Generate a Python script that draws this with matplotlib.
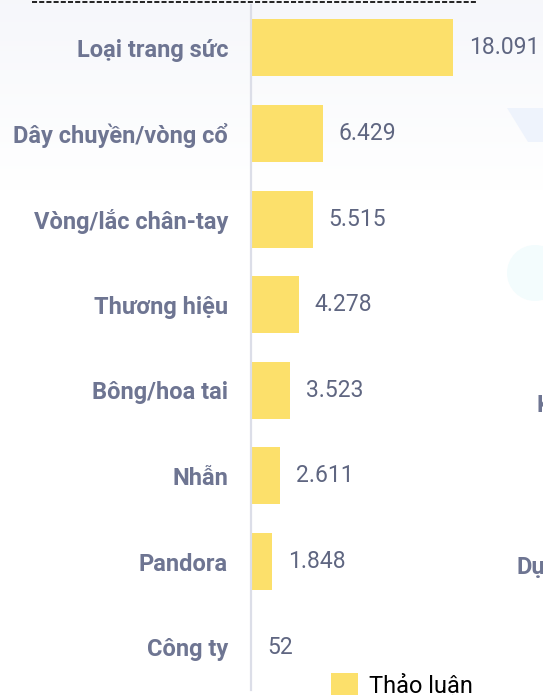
import matplotlib.pyplot as plt
import numpy as np
from matplotlib.patches import Patch, Polygon, Circle

plt.rcParams['font.family'] = ['Roboto', 'DejaVu Sans']

categories = ['Loại trang sức', 'Dây chuyền/vòng cổ', 'Vòng/lắc chân-tay', 'Thương hiệu',
              'Bông/hoa tai', 'Nhẫn', 'Pandora', 'Công ty']
values = [18091, 6429, 5515, 4278, 3523, 2611, 1848, 52]
value_labels = ['18.091', '6.429', '5.515', '4.278', '3.523', '2.611', '1.848', '52']
series_name = 'Thảo luận'

W, H = 543, 695
bar_color = '#fce06b'
label_color = '#6e7592'
value_color = '#5f6681'

fig = plt.figure(figsize=(W / 100, H / 100), dpi=100)

# soft page background behind the chart
bg = fig.add_axes([0, 0, 1, 1], zorder=0)
bg.set_xlim(0, W)
bg.set_ylim(H, 0)
bg.axis('off')
grad = np.ones((H, 1, 3))
top = np.array([0.965, 0.969, 0.984])
fade = np.clip(np.arange(H) / 190.0, 0, 1)[:, None]
grad[:, 0, :] = top * (1 - fade) + 1.0 * fade
bg.imshow(grad, extent=[0, W, H, 0], aspect='auto')
bg.add_patch(Polygon([[507, 108], [543, 108], [543, 142], [528, 142]], closed=True,
                     facecolor='#eef3fc', edgecolor='none'))
bg.add_patch(Circle((535, 273), 28, facecolor='#f3fcfd', edgecolor='none'))
bg.plot([32, 476], [2, 2], color='#222222', lw=1.4, ls=(0, (2.6, 1.1)))
bg.text(537, 405, 'K', ha='left', va='center', fontsize=17, fontweight='bold', color=label_color)
bg.text(516, 568, 'Dự', ha='left', va='center', fontsize=17, fontweight='bold', color=label_color)

ax = fig.add_axes([251 / W, 5 / H, (W - 251) / W, 685 / H], zorder=1)
ax.patch.set_alpha(0)
y = np.arange(len(categories))
bars = ax.barh(y, values, height=0.666, color=bar_color, label=series_name)
ax.set_ylim(len(categories) - 0.5, -0.5)
ax.set_xlim(0, 18091 * (W - 251) / 202)
ax.set_yticks(y)
ax.set_yticklabels(categories, fontsize=17, fontweight='bold', color=label_color)
ax.tick_params(axis='y', length=0, pad=16.5)
ax.set_xticks([])
for s in ['top', 'right', 'bottom']:
    ax.spines[s].set_visible(False)
ax.spines['left'].set_color('#dcdee8')
ax.spines['left'].set_linewidth(1.6)

ax.bar_label(bars, labels=value_labels, padding=11.5, fontsize=16.5, color=value_color)

fig.legend(handles=[Patch(facecolor=bar_color, label=series_name)], loc='upper left',
           bbox_to_anchor=(331 / W, 1 - 673 / H), frameon=False, borderpad=0,
           borderaxespad=0, handlelength=1.15, handleheight=1.2, handletextpad=0.45,
           prop={'size': 17})

fig.savefig('out.png', dpi=100)
